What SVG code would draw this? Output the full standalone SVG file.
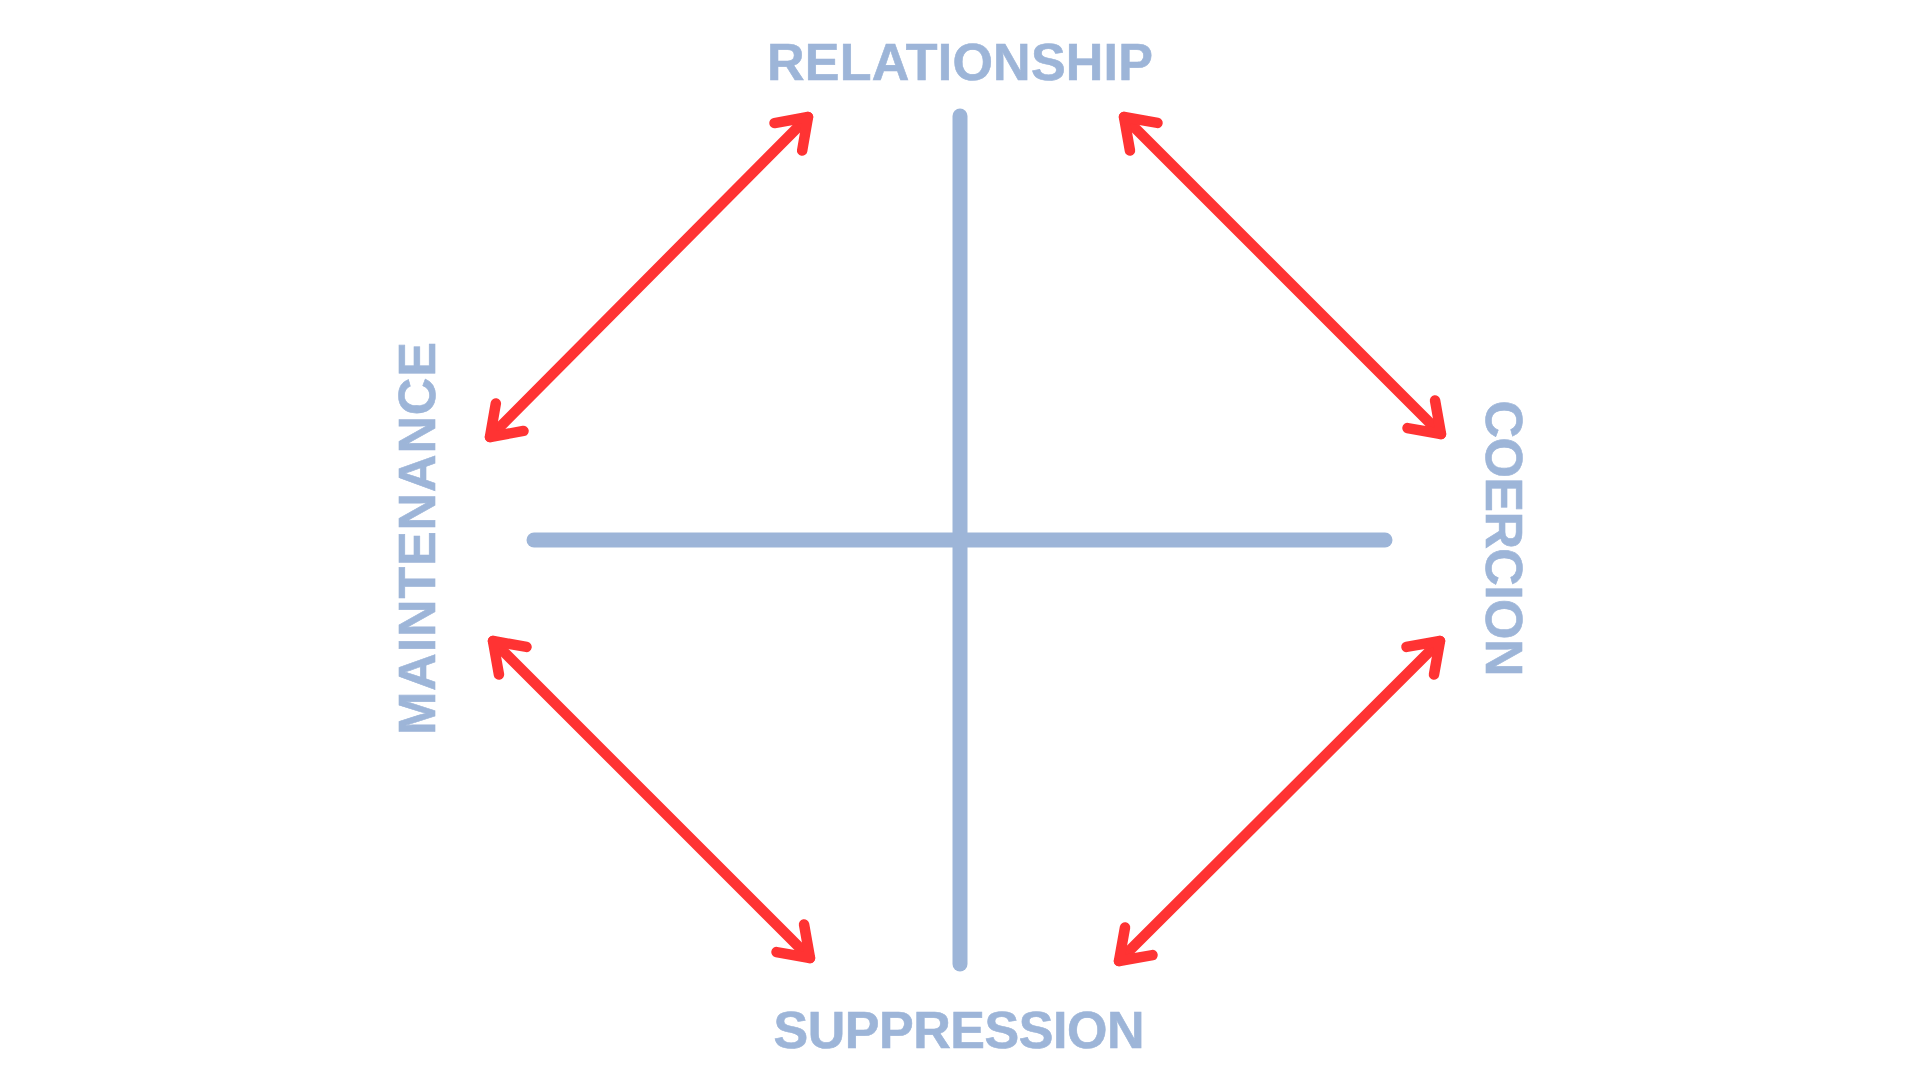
<svg xmlns="http://www.w3.org/2000/svg" width="1920" height="1080" viewBox="0 0 1920 1080">
<style>
.lbl{font-family:"Liberation Sans",Arial,sans-serif;font-weight:bold;font-size:52px;fill:#9db5d8;stroke:#9db5d8;stroke-width:0.6px}
.axis{stroke:#9db5d8;stroke-width:15;stroke-linecap:round;fill:none}
.arr{stroke:#ff3333;stroke-width:10.5;stroke-linecap:round;fill:none}
</style>
<defs>
<marker id="head" markerUnits="userSpaceOnUse" viewBox="-45 -30 60 60" markerWidth="60" markerHeight="60" refX="0" refY="0" orient="auto-start-reverse" overflow="visible">
<polyline points="-27.9,-19.5 0,0 -27.9,19.5" fill="none" stroke="#ff3333" stroke-width="10.5" stroke-linecap="round" stroke-linejoin="round"/>
</marker>
</defs>
<rect width="1920" height="1080" fill="#ffffff"/>
<g id="axes">
<line class="axis" x1="960" y1="116" x2="960" y2="964"/>
<line class="axis" x1="534" y1="540" x2="1385" y2="540"/>
</g>
<g id="relationship"><text class="lbl" x="960" y="80" text-anchor="middle" textLength="386">RELATIONSHIP</text></g>
<g id="suppression"><text class="lbl" x="959" y="1048" text-anchor="middle" textLength="371">SUPPRESSION</text></g>
<g id="maintenance"><text class="lbl" transform="translate(435,538.5) rotate(-90)" x="0" y="0" text-anchor="middle" textLength="393">MAINTENANCE</text></g>
<g id="coercion"><text class="lbl" transform="translate(1486,538.5) rotate(90)" x="0" y="0" text-anchor="middle" textLength="276">COERCION</text></g>
<g id="connectors">
<line class="arr" x1="490" y1="437" x2="808" y2="117" marker-start="url(#head)" marker-end="url(#head)"/>
<line class="arr" x1="1124" y1="117" x2="1441" y2="434" marker-start="url(#head)" marker-end="url(#head)"/>
<line class="arr" x1="493" y1="641" x2="810" y2="958" marker-start="url(#head)" marker-end="url(#head)"/>
<line class="arr" x1="1440" y1="641" x2="1119" y2="961" marker-start="url(#head)" marker-end="url(#head)"/>
</g>
</svg>
